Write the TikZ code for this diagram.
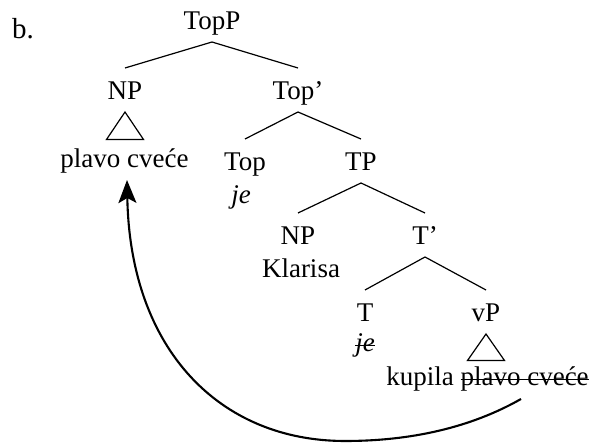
\documentclass[tikz,border=0pt]{standalone}
\usepackage{fontspec}
\setmainfont{Liberation Serif}
\usetikzlibrary{arrows.meta,calc}
\newsavebox\mystbox
\newcommand\mystrike[1]{\sbox\mystbox{#1}\rlap{\usebox\mystbox}\rule[5.5pt]{\wd\mystbox}{1.3pt}}
\begin{document}
\begin{tikzpicture}[x=1pt,y=-1pt,
  lab/.style={anchor=base,inner xsep=0pt,inner ysep=5pt,outer sep=0pt,
    text height=27pt,text depth=7pt,font=\fontsize{27}{32}\selectfont},
  txt/.style={anchor=base,inner sep=0pt,outer sep=0pt,font=\fontsize{27}{32}\selectfont},
  branch/.style={line width=1.2pt},
  tri/.style={line width=1.2pt,line join=miter},
  move/.style={line width=2.1pt,-{Stealth[length=23pt,width=18pt,inset=5pt]}}]
\useasboundingbox (0,0) rectangle (595,443);
\node[txt,font=\fontsize{29}{34}\selectfont] (lbl) at (23,39) {b.};
\node[lab] (topp) at (212,30) {TopP};
\node[lab] (np1) at (125,100) {NP};
\node[lab] (topbar) at (298,100) {Top’};
\node[txt] (plavo) at (124.5,168) {plavo cveće};
\node[lab] (top) at (245,171) {Top};
\node[txt] (je1) at (241,204) {\itshape je};
\node[lab] (tp) at (361,171) {TP};
\node[lab] (np2) at (298,245) {NP};
\node[txt] (klarisa) at (301,278) {Klarisa};
\node[lab] (tbar) at (425,245) {T’};
\node[lab] (t) at (365,322) {T};
\node[txt] (je2) at (365,352) {\itshape\mystrike{je}};
\node[lab] (vp) at (486,322) {vP};
\node[txt] (kupila) at (487.5,386) {kupila \mystrike{plavo cveće}};
% branches
\draw[branch] (topp.south) -- (np1.north);
\draw[branch] (topp.south) -- (topbar.north);
\draw[branch] (topbar.south) -- (top.north);
\draw[branch] (topbar.south) -- (tp.north);
\draw[branch] (tp.south) -- (np2.north);
\draw[branch] (tp.south) -- (tbar.north);
\draw[branch] (tbar.south) -- (t.north);
\draw[branch] (tbar.south) -- (vp.north);
% triangles
\draw[tri] (np1.south) -- ++(-18.5,27.5) -- ++(37,0) -- cycle;
\draw[tri] (vp.south) -- ++(-18.5,26.5) -- ++(37,0) -- cycle;
% movement arrow
\coordinate (mvstart) at ($(kupila.base)+(33.5,13)$);
\coordinate (mvlow) at (345,441);
\draw[move] (mvstart) .. controls (470,428) and (410,441) .. (mvlow)
  .. controls (220,441) and (130,350) .. ($(plavo.base)+(2.5,12)$);
\end{tikzpicture}
\end{document}
